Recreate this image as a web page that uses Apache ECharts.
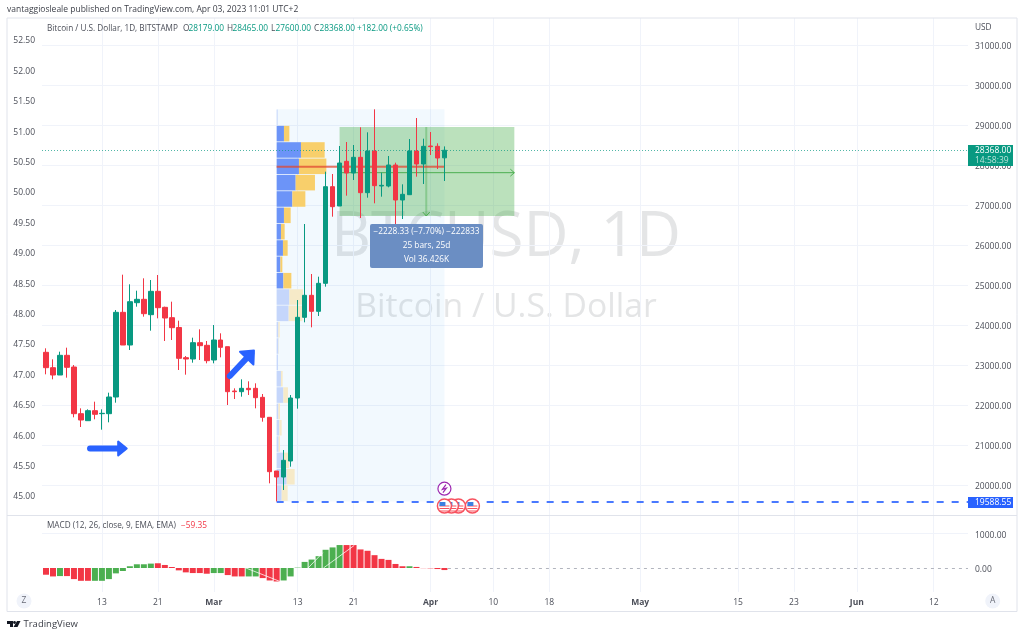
<!DOCTYPE html>
<html>
<head>
<meta charset="utf-8">
<title>BTCUSD 1D</title>
<style>
  html, body { margin: 0; padding: 0; background: #fff; }
  #chart { width: 1024px; height: 636px; }
</style>
<script src="https://cdn.jsdelivr.net/npm/echarts@6/dist/echarts.min.js"></script>
</head>
<body>
<div id="chart"></div>
<script>
// candles, one per day from Feb 05 (day 0)
const opens = [23317,22933,22750,23242,22950,21783,21608,21858,21783,21783,22200,24317,23500,24558,24642,24258,24842,24442,24183,23938,23183,23150,23558,23492,23125,23625,23458,22350,22333,22417,22417,22192,21692,20350,20200,20600,22175,24192,24742,24342,25042,27458,26975,28092,27800,28192,27308,28350,27475,27475,28000,27125,27258,28350,28025,28475,28467,28179];
const closes = [22933,22750,23242,22942,21783,21625,21858,21767,21792,22200,24317,23500,24583,24642,24283,24842,24433,24175,23933,23167,23150,23558,23483,23108,23625,23442,22333,22333,22417,22383,22183,21692,20333,20200,20617,22175,24192,24742,24342,25042,27458,26958,28050,27800,28192,27308,28350,27483,27492,28000,27125,27267,28350,28025,28467,28458,28175,28368];
const lows = [22767,22642,22750,22683,21692,21450,21608,21642,21383,21567,22058,23500,23375,24458,24208,23858,24167,23600,23625,22875,22758,23058,23125,23042,23042,23192,22000,22150,22208,22250,21917,21583,20042,19588.55,19875,20458,21908,24067,23942,24225,24958,26708,26975,27233,27625,26675,27183,27042,27208,27442,26500,26650,27258,27708,27525,28250,27900,27600];
const highs = [23417,23142,23333,23433,23000,21917,21892,22083,21892,22308,24375,25258,25017,24858,25167,25125,25250,24458,24583,24108,23225,23683,23892,23600,24000,23792,23458,22417,22642,22592,22542,22275,21692,20350,20875,22250,24625,26525,25275,25208,27833,27775,28475,28575,28500,28942,28817,29392,27808,28225,28058,27517,28650,29175,28658,28825,28542,28465];

// macd histogram
const macdValues = [-194,-243,-233,-233,-320,-369,-369,-369,-369,-320,-155,-87,50,107,107,126,136,87,29,-68,-126,-146,-146,-165,-146,-146,-204,-243,-243,-243,-243,-291,-359,-388,-359,-243,10,175,243,340,524,592,660,660,660,534,495,369,262,233,116,50,50,30,-5,-10,-30,-59.35];
const macdColors = ['r','r','g','r','r','r','r','g','g','g','g','g','g','g','g','g','r','r','r','r','r','r','r','r','g','g','r','r','r','g','g','r','r','r','g','g','g','g','g','g','g','g','g','r','r','r','r','r','r','r','r','r','g','r','r','r','r','r'];
// pale line over the histogram
const macdLineDays = [28.6,33.5,null,37.5,39.6,null,39.7,44.1];
const macdLineValues = [0,-390,null,0,440,null,0,650];

// volume profile, rows from the bottom of the range up
const profileUp = [5,10,7,2,2.7,1.7,6.7,4.3,1.3,1.7,1.7,12,12.7,6.7,3.7,6.3,4.3,7.3,15.7,19,22.3,24.3,7.3,1];
const profileDown = [6,8,5.3,1.3,2.3,1.6,4.6,1.7,0,0.3,1.3,13.7,13.6,8,2,4.7,3.7,6.7,13,19.3,27.4,23.7,5.4,0];

// axes
const priceTicks = [20000,21000,22000,23000,24000,25000,26000,27000,28000,29000,30000,31000];
const leftTicks = [45,45.5,46,46.5,47,47.5,48,48.5,49,49.5,50,50.5,51,51.5,52,52.5];
const macdTicks = [0,1000];
const dayTicks = [8,16,24,36,44,55,64,72,85,99,107,116,127];
const dayLabels = ['13','21','Mar','13','21','Apr','10','18','May','15','23','Jun','12'];
const monthLabels = ['Mar','Apr','May','Jun'];

// drawings on the chart, in days and prices
const rangeDays = [33,57];
const rangePrices = [19588.55,29392];
const positionDays = [42,67];
const positionPrices = [26725,28950];
const positionMid = 27808;
const measureDay = 54.4;
const pocPrice = 27958;
const lastPrice = 28368;
const supportPrice = 19588.55;
const flagDays = [57,58,59,61];
const flagPrice = 19475;
const boltPrice = 19908;
const arrowRight = [[6.3,20912],[11.55,20912]];
const arrowUp = [[26.3,22725],[29.75,23363]];

const red = '#f23645';
const teal = '#089981';
const blue = '#2962ff';
const fontName = '"Open Sans", sans-serif';
const textGrey = '#4c4f59';

const xMin = -0.57;
const xMax = 131.9;
const profileScale = 1 / 6.99;
const profileStep = (rangePrices[1] - rangePrices[0]) / profileUp.length;

let chart = echarts.init(document.getElementById('chart'), null, { renderer: 'canvas' });

function box(api, x0, p0, x1, p1, style) {
  let a = api.coord([x0, p1]);
  let b = api.coord([x1, p0]);
  return { type: 'rect', shape: { x: a[0], y: a[1], width: b[0] - a[0], height: b[1] - a[1] }, style: style };
}

function seg(api, x0, p0, x1, p1, style) {
  let a = api.coord([x0, p0]);
  let b = api.coord([x1, p1]);
  return { type: 'line', shape: { x1: a[0], y1: a[1], x2: b[0], y2: b[1] }, style: style };
}

// one custom series that draws its children once
function drawing(z, build) {
  return {
    type: 'custom', xAxisIndex: 0, yAxisIndex: 0, z: z, silent: true, clip: false,
    data: [[0, 25000]],
    renderItem: function (params, api) {
      return { type: 'group', children: build(api) };
    }
  };
}

// thick shaft plus a filled head, spread is the half angle of the head
function thickArrow(api, arrow, headPx, spread) {
  let a = api.coord(arrow[0]);
  let b = api.coord(arrow[1]);
  let ang = Math.atan2(b[1] - a[1], b[0] - a[0]);
  return [
    { type: 'line', shape: { x1: a[0], y1: a[1], x2: b[0] - 4 * Math.cos(ang), y2: b[1] - 4 * Math.sin(ang) }, style: { stroke: blue, lineWidth: 6, lineCap: 'round' } },
    { type: 'polygon', shape: { points: [
      [b[0] - headPx * Math.cos(ang - spread), b[1] - headPx * Math.sin(ang - spread)],
      [b[0], b[1]],
      [b[0] - headPx * Math.cos(ang + spread), b[1] - headPx * Math.sin(ang + spread)]
    ] }, style: { fill: blue, stroke: blue, lineWidth: 2, lineJoin: 'round' } }
  ];
}

function flagIcon(api, day) {
  let c = api.coord([day, flagPrice]);
  let x = c[0], y = c[1];
  let kids = [{ type: 'circle', shape: { cx: x, cy: y, r: 7 }, style: { fill: '#fff', stroke: '#f7525f', lineWidth: 1.5 } }];
  [1, 3.5, 6].forEach(function (d) {
    kids.push({ type: 'line', shape: { x1: x - 5, y1: y + d - 1, x2: x + 5, y2: y + d - 1 }, style: { stroke: '#f7525f', lineWidth: 1 } });
  });
  kids.push({ type: 'rect', shape: { x: x - 5, y: y - 4, width: 6, height: 4 }, style: { fill: '#3d7fe0' } });
  return { type: 'group', children: kids };
}

const candleData = opens.map(function (o, i) { return [i, o, closes[i], lows[i], highs[i]]; });
const macdData = macdValues.map(function (v, i) {
  return { value: [i, v], itemStyle: { color: macdColors[i] === 'r' ? red : '#4caf50' } };
});
const macdLineData = macdLineDays.map(function (d, i) { return d === null ? ['-', '-'] : [d, macdLineValues[i]]; });

let option = {
  animation: false,
  backgroundColor: '#fff',
  textStyle: { fontFamily: fontName },
  grid: [
    { left: 42, right: 56, top: 18, height: 497 },
    { left: 42, right: 56, top: 515, height: 77 }
  ],
  xAxis: [
    {
      type: 'value', gridIndex: 0, min: xMin, max: xMax,
      axisLine: { show: false },
      axisTick: { show: false, customValues: dayTicks },
      axisLabel: { show: false },
      splitLine: { show: true, lineStyle: { color: '#f0f3fa', width: 1 } }
    },
    {
      type: 'value', gridIndex: 1, min: xMin, max: xMax,
      axisLine: { show: false },
      axisTick: { show: false, customValues: dayTicks },
      axisLabel: {
        show: true, customValues: dayTicks, margin: 6, fontSize: 8.5, color: textGrey, hideOverlap: false,
        formatter: function (v) {
          let lab = dayLabels[dayTicks.indexOf(v)];
          return monthLabels.indexOf(lab) >= 0 ? '{m|' + lab + '}' : lab;
        },
        rich: { m: { fontSize: 8.5, fontWeight: 'bold', color: textGrey, fontFamily: fontName } }
      },
      splitLine: { show: true, lineStyle: { color: '#f0f3fa', width: 1 } }
    }
  ],
  yAxis: [
    {
      type: 'value', gridIndex: 0, position: 'right', min: 19250, max: 31675,
      axisLine: { show: false },
      axisTick: { show: false, customValues: priceTicks },
      axisLabel: {
        customValues: priceTicks, margin: 7, fontSize: 8.5, color: textGrey, showMinLabel: true, showMaxLabel: true,
        verticalAlign: 'top', lineHeight: 4,
        formatter: function (v) { return v.toFixed(2); }
      },
      splitLine: { show: true, lineStyle: { color: '#f0f3fa', width: 1 } }
    },
    {
      type: 'value', gridIndex: 0, position: 'left', min: 44.671, max: 52.845,
      axisLine: { show: false },
      axisTick: { show: false, customValues: leftTicks },
      axisLabel: {
        customValues: leftTicks, margin: 7, fontSize: 8.5, color: textGrey,
        verticalAlign: 'top', lineHeight: 4,
        formatter: function (v) { return v.toFixed(2); }
      },
      splitLine: { show: false }
    },
    {
      type: 'value', gridIndex: 1, position: 'right', min: -691, max: 1525,
      axisLine: { show: false },
      axisTick: { show: false, customValues: [1000] },
      axisLabel: {
        customValues: macdTicks, margin: 7, fontSize: 8.5, color: textGrey,
        verticalAlign: 'top', lineHeight: 4,
        formatter: function (v) { return v.toFixed(2); }
      },
      splitLine: { show: true, lineStyle: { color: '#f0f3fa', width: 1 } }
    }
  ],
  series: [
    // light blue date range
    drawing(1, function (api) {
      return [box(api, rangeDays[0], rangePrices[0], rangeDays[1], rangePrices[1], { fill: 'rgba(33,150,243,0.06)' })];
    }),
    // long position box with its two arrows
    drawing(1, function (api) {
      let kids = [box(api, positionDays[0], positionPrices[0], positionDays[1], positionPrices[1], { fill: 'rgba(76,175,80,0.38)' })];
      kids.push(seg(api, positionDays[0], positionMid, positionDays[1], positionMid, { stroke: '#4caf50', lineWidth: 1 }));
      let tip = api.coord([positionDays[1], positionMid]);
      kids.push({ type: 'polyline', shape: { points: [[tip[0] - 4, tip[1] - 3.5], tip, [tip[0] - 4, tip[1] + 3.5]] }, style: { stroke: '#4caf50', lineWidth: 1, fill: null } });
      kids.push(seg(api, measureDay, positionPrices[0], measureDay, positionPrices[1], { stroke: 'rgba(76,175,80,0.42)', lineWidth: 2 }));
      let tip2 = api.coord([measureDay, positionPrices[0]]);
      kids.push({ type: 'polyline', shape: { points: [[tip2[0] - 3.5, tip2[1] - 4], tip2, [tip2[0] + 3.5, tip2[1] - 4]] }, style: { stroke: '#4caf50', lineWidth: 1, fill: null } });
      return kids;
    }),
    // volume profile
    drawing(1, function (api) {
      let kids = [];
      profileUp.forEach(function (up, i) {
        let bright = i >= 13 && i <= 22;
        let p0 = rangePrices[0] + i * profileStep + 15;
        let p1 = rangePrices[0] + (i + 1) * profileStep - 5;
        let x0 = rangeDays[0];
        let x1 = x0 + up * profileScale;
        let x2 = x1 + profileDown[i] * profileScale;
        kids.push(box(api, x0, p0, x1, p1, { fill: bright ? '#6c94f8' : '#c5d6fb' }));
        if (profileDown[i] > 0) {
          kids.push(box(api, x1, p0, x2, p1, { fill: bright ? '#f8cf6b' : '#f6eac8' }));
        }
      });
      return kids;
    }),
    // point of control line
    drawing(1, function (api) {
      return [seg(api, rangeDays[0], pocPrice, rangeDays[1], pocPrice, { stroke: 'rgba(224,72,50,0.75)', lineWidth: 2 })];
    }),
    {
      name: 'BTCUSD',
      type: 'candlestick',
      xAxisIndex: 0, yAxisIndex: 0, z: 3,
      barWidth: 5,
      data: candleData,
      itemStyle: { color: teal, color0: red, borderColor: teal, borderColor0: red, borderWidth: 1 },
      markLine: {
        silent: true, symbol: 'none', animation: false, label: { show: false },
        data: [
          { yAxis: lastPrice, lineStyle: { color: teal, type: [1, 2], width: 1, opacity: 0.7 } },
          [
            { coord: [rangeDays[0], supportPrice], lineStyle: { color: blue, type: [7, 8], width: 2, opacity: 0.85 } },
            { coord: [xMax, supportPrice] }
          ]
        ]
      }
    },
    // blue arrows, event icons
    drawing(4, function (api) {
      return thickArrow(api, arrowRight, 11, 0.68).concat(thickArrow(api, arrowUp, 14, 0.72));
    }),
    drawing(5, function (api) {
      let c = api.coord([rangeDays[1], boltPrice]);
      let kids = [
        { type: 'circle', shape: { cx: c[0], cy: c[1], r: 6.5 }, style: { fill: '#fff', stroke: '#9c27b0', lineWidth: 1.2 } },
        { type: 'polyline', shape: { points: [[c[0] + 1.5, c[1] - 4], [c[0] - 2, c[1] + 0.6], [c[0] + 2, c[1] - 0.6], [c[0] - 1.5, c[1] + 4]] }, style: { stroke: '#9c27b0', lineWidth: 1.2, fill: null } }
      ];
      flagDays.slice().reverse().forEach(function (d) { kids.push(flagIcon(api, d)); });
      return kids;
    }),
    {
      name: 'MACD hist',
      type: 'bar', xAxisIndex: 1, yAxisIndex: 2, barWidth: 6, z: 3,
      data: macdData,
      markLine: {
        silent: true, symbol: 'none', animation: false, label: { show: false },
        lineStyle: { color: '#b2b5be', type: [3, 4], width: 1 },
        data: [[{ coord: [57.5, 0] }, { coord: [xMax, 0] }]]
      }
    },
    {
      name: 'MACD line',
      type: 'line', xAxisIndex: 1, yAxisIndex: 2, z: 4,
      showSymbol: false, silent: true, connectNulls: false,
      lineStyle: { color: 'rgba(255,255,255,0.75)', width: 1 },
      data: macdLineData
    }
  ],
  graphic: { elements: [
    // watermark
    { type: 'text', z: 0, silent: true, style: { x: 506, y: 238, text: 'BTCUSD, 1D', align: 'center', verticalAlign: 'middle', font: '62px ' + fontName, fill: '#e4e5e6' } },
    { type: 'text', z: 0, silent: true, style: { x: 506, y: 307, text: 'Bitcoin / U.S. Dollar', align: 'center', verticalAlign: 'middle', font: '33.7px ' + fontName, fill: '#e4e5e6' } },
    // frame
    { type: 'rect', z: 1, silent: true, shape: { x: 7, y: 18, width: 1010, height: 593.5 }, style: { fill: null, stroke: '#e0e3eb', lineWidth: 1 } },
    { type: 'line', z: 1, silent: true, shape: { x1: 7, y1: 515.5, x2: 1017, y2: 515.5 }, style: { stroke: '#e0e3eb', lineWidth: 1 } },
    // header and legends
    { type: 'text', z: 20, style: { x: 7, y: 10, text: 'vantaggiosleale published on TradingView.com, Apr 03, 2023 11:01 UTC+2', verticalAlign: 'middle', font: '8.5px ' + fontName, fill: '#3c3f48' } },
    { type: 'text', z: 20, style: { x: 47, y: 29, text: 'Bitcoin / U.S. Dollar, 1D, BITSTAMP', verticalAlign: 'middle', font: '8.2px ' + fontName, fill: textGrey } },
    { type: 'text', z: 20, style: { x: 183, y: 29, text: 'O', verticalAlign: 'middle', font: '8.3px ' + fontName, fill: textGrey } },
    { type: 'text', z: 20, style: { x: 188.5, y: 29, text: '28179.00', verticalAlign: 'middle', font: '8.3px ' + fontName, fill: teal } },
    { type: 'text', z: 20, style: { x: 227, y: 29, text: 'H', verticalAlign: 'middle', font: '8.3px ' + fontName, fill: textGrey } },
    { type: 'text', z: 20, style: { x: 232.5, y: 29, text: '28465.00', verticalAlign: 'middle', font: '8.3px ' + fontName, fill: teal } },
    { type: 'text', z: 20, style: { x: 271, y: 29, text: 'L', verticalAlign: 'middle', font: '8.3px ' + fontName, fill: textGrey } },
    { type: 'text', z: 20, style: { x: 275.5, y: 29, text: '27600.00', verticalAlign: 'middle', font: '8.3px ' + fontName, fill: teal } },
    { type: 'text', z: 20, style: { x: 314, y: 29, text: 'C', verticalAlign: 'middle', font: '8.3px ' + fontName, fill: textGrey } },
    { type: 'text', z: 20, style: { x: 319.5, y: 29, text: '28368.00', verticalAlign: 'middle', font: '8.3px ' + fontName, fill: teal } },
    { type: 'text', z: 20, style: { x: 357, y: 29, text: '+182.00 (+0.65%)', verticalAlign: 'middle', font: '8.3px ' + fontName, fill: teal } },
    { type: 'text', z: 20, style: { x: 975, y: 28, text: 'USD', verticalAlign: 'middle', font: '8.3px ' + fontName, fill: textGrey } },
    { type: 'text', z: 20, style: { x: 47, y: 526, text: 'MACD (12, 26, close, 9, EMA, EMA)', verticalAlign: 'middle', font: '8.2px ' + fontName, fill: textGrey } },
    { type: 'text', z: 20, style: { x: 181, y: 526, text: '\u221259.35', verticalAlign: 'middle', font: '8.3px ' + fontName, fill: red } },
    // measure label
    { type: 'rect', z: 20, shape: { x: 370, y: 224, width: 113, height: 44, r: 2 }, style: { fill: '#6b8ec3' } },
    { type: 'text', z: 21, style: { x: 426.5, y: 231.5, text: '\u22122228.33 (\u22127.70%) \u2212222833', align: 'center', verticalAlign: 'middle', font: '8.3px ' + fontName, fill: '#fff' } },
    { type: 'text', z: 21, style: { x: 426.5, y: 245.5, text: '25 bars, 25d', align: 'center', verticalAlign: 'middle', font: '8.3px ' + fontName, fill: '#fff' } },
    { type: 'text', z: 21, style: { x: 426.5, y: 259.5, text: 'Vol 36.426K', align: 'center', verticalAlign: 'middle', font: '8.3px ' + fontName, fill: '#fff' } },
    // price tags
    { type: 'rect', z: 20, shape: { x: 968, y: 145, width: 45, height: 21 }, style: { fill: teal } },
    { type: 'text', z: 21, style: { x: 975, y: 150.5, text: '28368.00', verticalAlign: 'middle', font: '8.5px ' + fontName, fill: '#fff' } },
    { type: 'text', z: 21, style: { x: 975, y: 160.5, text: '14:58:39', verticalAlign: 'middle', font: '8.5px ' + fontName, fill: '#b8e3d9' } },
    { type: 'rect', z: 20, shape: { x: 968, y: 497, width: 45, height: 11 }, style: { fill: blue } },
    { type: 'text', z: 21, style: { x: 975, y: 502.5, text: '19588.55', verticalAlign: 'middle', font: '8.5px ' + fontName, fill: '#fff' } },
    // scale buttons
    { type: 'circle', z: 20, shape: { cx: 24, cy: 601, r: 7.5 }, style: { fill: '#f0f3fa' } },
    { type: 'text', z: 21, style: { x: 24, y: 601, text: 'Z', align: 'center', verticalAlign: 'middle', font: '8.5px ' + fontName, fill: '#6a6d78' } },
    { type: 'circle', z: 20, shape: { cx: 992.7, cy: 601, r: 7.5 }, style: { fill: '#f0f3fa' } },
    { type: 'text', z: 21, style: { x: 992.7, y: 601, text: 'A', align: 'center', verticalAlign: 'middle', font: '8.5px ' + fontName, fill: '#6a6d78' } },
    // footer logo
    { type: 'polygon', z: 20, shape: { points: [[7, 621], [13, 621], [13, 627], [10, 627], [10, 624], [7, 624]] }, style: { fill: '#131722' } },
    { type: 'circle', z: 20, shape: { cx: 14.5, cy: 622.5, r: 1.4 }, style: { fill: '#131722' } },
    { type: 'polygon', z: 20, shape: { points: [[17, 621], [20.5, 621], [17.5, 627], [13.5, 627]] }, style: { fill: '#131722' } },
    { type: 'text', z: 20, style: { x: 23.5, y: 624, text: 'TradingView', verticalAlign: 'middle', font: '9.5px ' + fontName, fill: '#3c3f48' } }
  ] }
};

chart.setOption(option);
</script>
</body>
</html>
